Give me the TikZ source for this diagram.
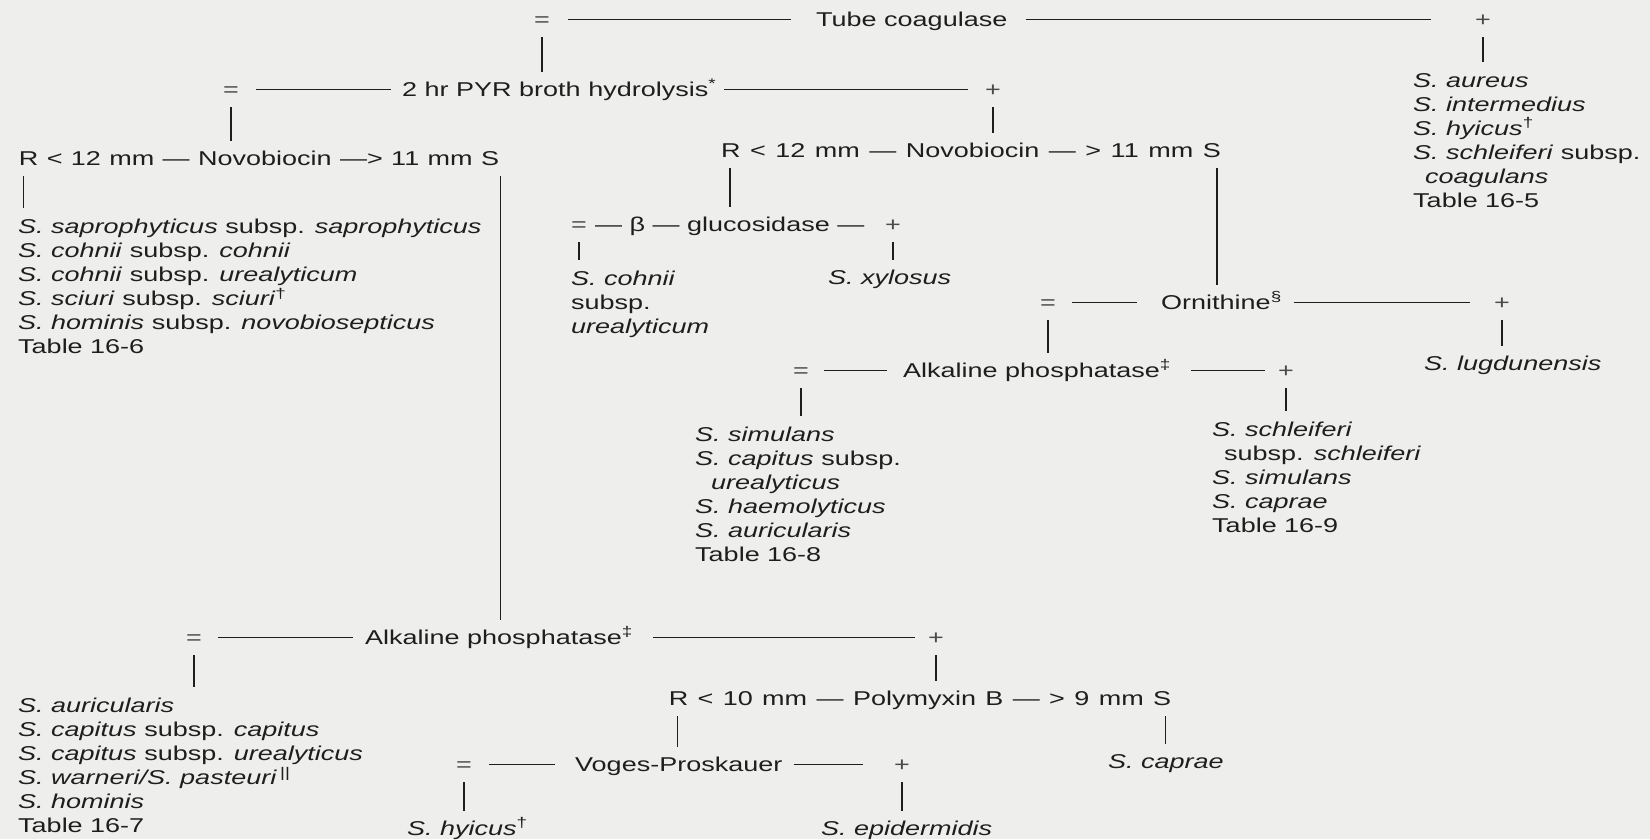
\documentclass[tikz,border=0pt]{standalone}
\usepackage{fontspec}
\setmainfont[FakeStretch=1.35]{Liberation Sans}
\definecolor{bgc}{HTML}{EEEEEC}
\definecolor{ink}{HTML}{1E1E1E}
\definecolor{symc}{HTML}{4A4A4A}
\newcommand\wsp[1]{\spaceskip=#1\relax}
\begin{document}
\begin{tikzpicture}[x=1pt,y=-1pt,
  every node/.style={font=\fontsize{20}{24}\selectfont, text=ink, inner sep=0pt},
  rowt/.style={text height=13pt, text depth=0pt, anchor=base west},
  rowc/.style={text height=13pt, text depth=0pt, anchor=base},
  symb/.style={text height=13pt, text depth=0pt, anchor=base, text=symc},
  lst/.style={anchor=north west, align=left},
  conn/.style={draw=ink, line width=1.2pt},
  vcon/.style={conn, shorten <=11pt, shorten >=11pt}]
\fill[bgc] (0,0) rectangle (1650,839);
\useasboundingbox (0,0) rectangle (1650,839);

% ---------- row 1
\node[symb] (e1) at (542,26) {=};
\node[rowt] (tc) at (816,26) {Tube coagulase};
\node[symb] (p1) at (1483,26) {+};
\draw[conn] ([xshift=18pt]e1.east) -- ([xshift=-25pt]tc.west);
\draw[conn] ([xshift=18pt]tc.east) -- ([xshift=-44pt]p1.west);
\node[lst] (rl1) at (1413,73) {\textit{S. aureus}\\\textit{S. intermedius}\\\textit{S. hyicus}\textsuperscript{†}\\\textit{S. schleiferi} subsp.\\\hspace*{12pt}\textit{coagulans}\\Table 16-5};
\draw[vcon] (p1.south) -- (p1.south |- rl1.north);

% ---------- row 2
\node[symb] (e2) at (231,96) {=};
\node[rowt] (pyr) at (402,96) {2 hr PYR broth hydrolysis\textsuperscript{*}};
\node[symb] (p2) at (993,96) {+};
\draw[conn] ([xshift=17pt]e2.east) -- ([xshift=-11pt]pyr.west);
\draw[conn] ([xshift=8pt]pyr.east) -- ([xshift=-17pt]p2.west);
\draw[vcon] (e1.south) -- (e1.south |- pyr.north);

% ---------- row 3 left
\node[rowc] (novL) at (259,165) {\wsp{8.4pt}R < 12 mm — Novobiocin —> 11 mm S};
\draw[vcon] (e2.south) -- (e2.south |- novL.north);
\node[lst] (ll1) at (18,219) {\textit{S. saprophyticus} subsp. \textit{saprophyticus}\\\textit{S. cohnii} subsp. \textit{cohnii}\\\textit{S. cohnii} subsp. \textit{urealyticum}\\\textit{S. sciuri} subsp. \textit{sciuri}\textsuperscript{†}\\\textit{S. hominis} subsp. \textit{novobiosepticus}\\Table 16-6};
\coordinate (novLR) at ([xshift=5pt]novL.south west);
\coordinate (novLS) at ([xshift=1pt]novL.south east);
\draw[vcon] (novLR) -- (novLR |- ll1.north);

% ---------- row 3 right
\node[rowc] (novR) at (971,157) {\wsp{9.5pt}R < 12 mm — Novobiocin — > 11 mm S};
\draw[vcon] (p2.south) -- (p2.south |- novR.north);
\coordinate (novRR) at ([xshift=9pt]novR.south west);
\coordinate (novRS) at ([xshift=-4pt]novR.south east);

% ---------- beta-glucosidase
\node[symb] (eB) at (579,231) {=};
\node[rowt] (gl) at (595,231) {— β — glucosidase —};
\node[symb] (pB) at (893,231) {+};
\draw[vcon] (novRR) -- (novRR |- gl.north);
\node[lst] (cu) at (571,271) {\textit{S. cohnii}\\subsp.\\\textit{urealyticum}};
\node[rowt] (xy) at (828,284) {\textit{S. xylosus}};
\draw[vcon] (eB.south) -- (eB.south |- cu.north);
\draw[vcon] (pB.south) -- (pB.south |- xy.north);

% ---------- ornithine
\node[symb] (eO) at (1048,309) {=};
\node[rowt] (orn) at (1161,309) {Ornithine\textsuperscript{§}};
\node[symb] (pO) at (1502,309) {+};
\draw[conn] ([xshift=16pt]eO.east) -- ([xshift=-24pt]orn.west);
\draw[conn] ([xshift=12pt]orn.east) -- ([xshift=-24pt]pO.west);
\draw[vcon] (novRS) -- (novRS |- orn.north);
\node[rowt] (lug) at (1424,370) {\textit{S. lugdunensis}};
\draw[vcon] (pO.south) -- (pO.south |- lug.north);

% ---------- alkaline phosphatase (upper)
\node[symb] (eA) at (801,377) {=};
\node[rowt] (ap1) at (903,377) {Alkaline phosphatase\textsuperscript{‡}};
\node[symb] (pA) at (1286,377) {+};
\draw[conn] ([xshift=15pt]eA.east) -- ([xshift=-16pt]ap1.west);
\draw[conn] ([xshift=20pt]ap1.east) -- ([xshift=-13pt]pA.west);
\draw[vcon] (eO.south) -- (eO.south |- ap1.north);
\node[lst] (sl) at (695,427) {\textit{S. simulans}\\\textit{S. capitus} subsp.\\\hspace*{16pt}\textit{urealyticus}\\\textit{S. haemolyticus}\\\textit{S. auricularis}\\Table 16-8};
\node[lst] (sr) at (1212,422) {\textit{S. schleiferi}\\\hspace*{12pt}subsp. \textit{schleiferi}\\\textit{S. simulans}\\\textit{S. caprae}\\Table 16-9};
\draw[vcon] (eA.south) -- (eA.south |- sl.north);
\draw[vcon] (pA.south) -- (pA.south |- sr.north);

% ---------- alkaline phosphatase (lower)
\node[symb] (eA2) at (194,644) {=};
\node[rowt] (ap2) at (365,644) {Alkaline phosphatase\textsuperscript{‡}};
\node[symb] (pA2) at (936,644) {+};
\draw[conn] ([xshift=16pt]eA2.east) -- ([xshift=-12pt]ap2.west);
\draw[conn] ([xshift=20pt]ap2.east) -- ([xshift=-13pt]pA2.west);
\draw[vcon] (novLS) -- (novLS |- ap2.north);
\node[lst] (bl) at (18,698) {\textit{S. auricularis}\\\textit{S. capitus} subsp. \textit{capitus}\\\textit{S. capitus} subsp. \textit{urealyticus}\\\textit{S. warneri/S. pasteuri}\,\textsuperscript{||}\\\textit{S. hominis}\\Table 16-7};
\draw[vcon] (eA2.south) -- (eA2.south |- bl.north);

% ---------- polymyxin
\node[rowc] (pm) at (920,705) {\wsp{9.4pt}R < 10 mm — Polymyxin B — > 9 mm S};
\draw[vcon] (pA2.south) -- (pA2.south |- pm.north);
\coordinate (pmR) at ([xshift=9pt]pm.south west);
\coordinate (pmS) at ([xshift=-6pt]pm.south east);
\node[rowt] (cap) at (1108,768) {\textit{S. caprae}};
\draw[vcon] (pmS) -- (pmS |- cap.north);

% ---------- Voges-Proskauer
\node[symb] (eV) at (464,771) {=};
\node[rowt] (vp) at (575,771) {Voges-Proskauer};
\node[symb] (pV) at (902,771) {+};
\draw[conn] ([xshift=17pt]eV.east) -- ([xshift=-20pt]vp.west);
\draw[conn] ([xshift=11pt]vp.east) -- ([xshift=-31pt]pV.west);
\draw[vcon] (pmR) -- (pmR |- vp.north);
\node[rowt] (hy) at (407,835) {\textit{S. hyicus}\textsuperscript{†}};
\node[rowt] (ep) at (821,835) {\textit{S. epidermidis}};
\draw[vcon] (eV.south) -- (eV.south |- hy.north);
\draw[vcon] (pV.south) -- (pV.south |- ep.north);
\end{tikzpicture}
\end{document}
